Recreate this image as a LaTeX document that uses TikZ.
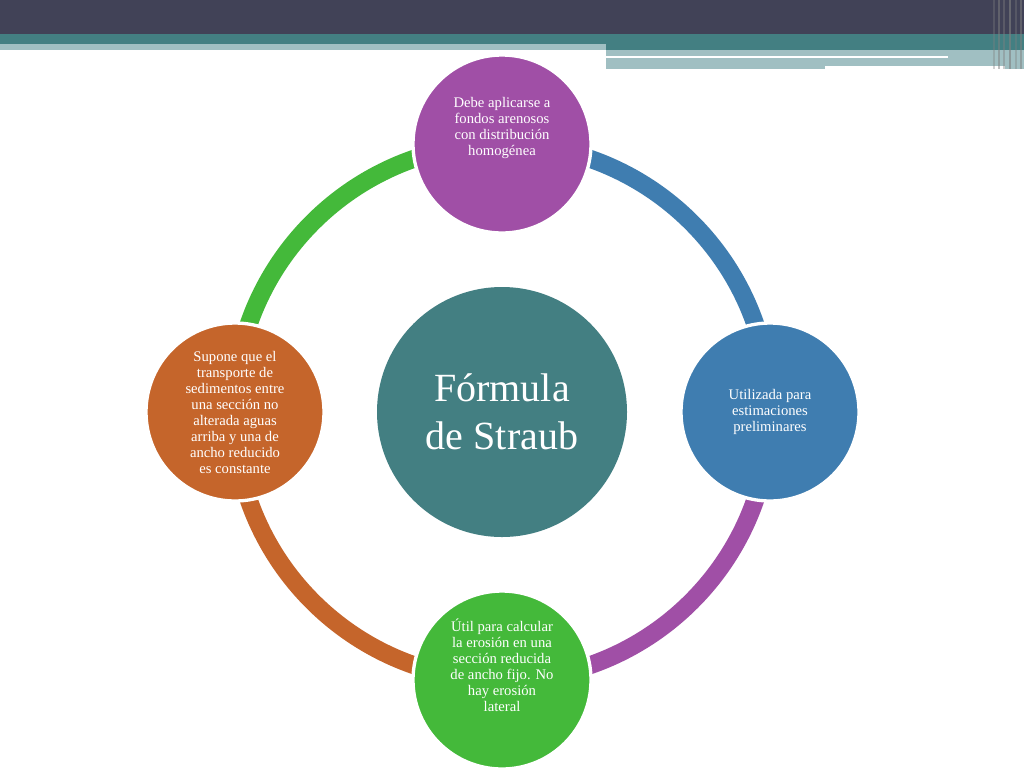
\documentclass[tikz,border=0pt]{standalone}
\usepackage{fontspec}
\setmainfont{Liberation Serif}
\begin{document}
\begin{tikzpicture}[x=0.75pt,y=-0.75pt,
  sat/.style={circle,minimum size=178*0.75pt,draw=white,line width=2.5pt,text=white,align=center,font=\fontsize{11}{12}\selectfont,inner sep=0pt},
  ring/.style={line width=13.5pt}]
\definecolor{hdark}{HTML}{414257}
\definecolor{hteal}{HTML}{437F82}
\definecolor{hlight}{HTML}{A0BFC2}
\definecolor{cpur}{HTML}{A04FA6}
\definecolor{cblu}{HTML}{3F7DB0}
\definecolor{cgrn}{HTML}{44B93A}
\definecolor{cora}{HTML}{C5652B}
\useasboundingbox (0,0) rectangle (1024,768);
\fill[white] (0,0) rectangle (1024,768);
% header
\fill[hdark] (0,0) rectangle (1024,34);
\fill[hteal] (0,34) rectangle (1024,50);
\fill[hlight] (0,44) rectangle (606,50);
\fill[hlight] (606,50) rectangle (1024,69);
\fill[white] (606,56) rectangle (948,58);
\fill[white] (825,66) rectangle (1005,69);
\foreach \xx/\op in {993/0.35,998/0.5,1003/0.4,1009/0.6,1015/0.35,1020/0.5}
  \fill[gray,opacity=\op] (\xx,0) rectangle (\xx+2,69);
% ring
\coordinate (c) at (502,412);
\draw[ring,cpur] (c) ++(90:268) arc[start angle=90,end angle=0,radius=268];
\draw[ring,cblu] (c) ++(0:268) arc[start angle=0,end angle=-90,radius=268];
\draw[ring,cgrn] (c) ++(-90:268) arc[start angle=-90,end angle=-180,radius=268];
\draw[ring,cora] (c) ++(180:268) arc[start angle=180,end angle=90,radius=268];
% nodes
\node[circle,fill=hteal,minimum size=250*0.75pt,text=white,align=center,font=\fontsize{30}{36}\selectfont] (m) at (c) {Fórmula\\de Straub};
\node[sat,fill=cpur] (t) at (502,144) {Debe aplicarse a\\fondos arenosos\\con distribución\\homogénea\\[14pt]};
\node[sat,fill=cblu] (r) at (770,412) {Utilizada para\\estimaciones\\preliminares};
\node[sat,fill=cgrn] (b) at (502,680) {Útil para calcular\\la erosión en una\\sección reducida\\de ancho fijo. No\\hay erosión\\lateral\\[10pt]};
\node[sat,fill=cora] (l) at (235,412) {Supone que el\\transporte de\\sedimentos entre\\una sección no\\alterada aguas\\arriba y una de\\ancho reducido\\es constante};
\end{tikzpicture}
\end{document}
